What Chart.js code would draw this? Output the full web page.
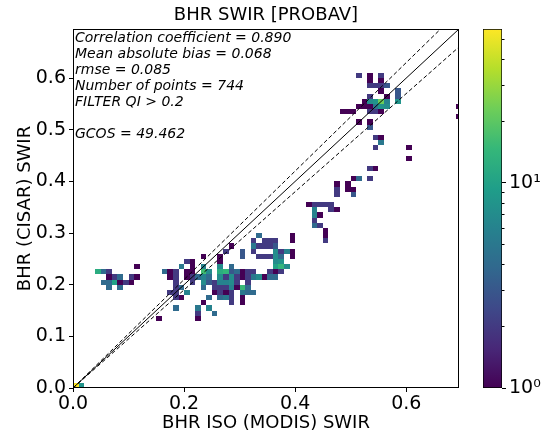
<!DOCTYPE html>
<html>
<head>
<meta charset="utf-8">
<script src="https://cdn.jsdelivr.net/npm/chart.js@4.4.1/dist/chart.umd.min.js"></script>
<style>
  html, body { margin: 0; padding: 0; background: #fff; }
  #wrap { position: relative; width: 548px; height: 436px; }
  #wrap canvas { position: absolute; left: 0; top: 0; }
</style>
</head>
<body>
<div id="wrap">
  <canvas id="hist-chart" width="548" height="436"></canvas>
  <canvas id="cbar-chart" width="548" height="436"></canvas>
</div>
<script>
// 2D histogram, bins of 0.01 (left/bottom edge values), one entry per row
const binSize = 0.01;
const rowY = [0.00, 0.13, 0.14, 0.15, 0.16, 0.17, 0.18, 0.19, 0.20, 0.21, 0.22, 0.23,
  0.24, 0.25, 0.26, 0.27, 0.28, 0.29, 0.30, 0.31, 0.32, 0.33, 0.34, 0.35, 0.37, 0.38,
  0.39, 0.40, 0.42, 0.44, 0.46, 0.47, 0.48, 0.50, 0.51, 0.52, 0.53, 0.54, 0.55, 0.56,
  0.57, 0.58, 0.59, 0.60];
const rowX = [
  [0.00, 0.01],
  [0.15, 0.22],
  [0.22, 0.25],
  [0.18, 0.22, 0.24],
  [0.23, 0.28, 0.30],
  [0.18, 0.19, 0.24, 0.26, 0.27, 0.28, 0.30],
  [0.17, 0.18, 0.20, 0.25, 0.26, 0.27, 0.28, 0.30, 0.31, 0.32],
  [0.06, 0.08, 0.18, 0.19, 0.23, 0.25, 0.26, 0.27, 0.28, 0.29, 0.30, 0.31],
  [0.05, 0.06, 0.07, 0.08, 0.09, 0.10, 0.18, 0.21, 0.23, 0.24, 0.25, 0.26, 0.27, 0.28, 0.29, 0.31],
  [0.06, 0.07, 0.08, 0.10, 0.11, 0.17, 0.18, 0.20, 0.21, 0.22, 0.23, 0.24, 0.26, 0.27, 0.28, 0.29, 0.30, 0.31, 0.32, 0.33, 0.34, 0.35, 0.36],
  [0.04, 0.05, 0.06, 0.16, 0.17, 0.18, 0.20, 0.21, 0.23, 0.24, 0.26, 0.27, 0.28, 0.29, 0.30, 0.31, 0.32, 0.35, 0.36, 0.37],
  [0.11, 0.19, 0.21, 0.23, 0.26, 0.28, 0.36, 0.37, 0.38],
  [0.20, 0.21, 0.26, 0.36, 0.37],
  [0.23, 0.26, 0.30, 0.33, 0.34, 0.35, 0.36, 0.37, 0.39],
  [0.27, 0.30, 0.32, 0.36, 0.37, 0.38, 0.39],
  [0.28, 0.32, 0.33, 0.34, 0.35, 0.36],
  [0.32, 0.34, 0.35, 0.36, 0.39, 0.45],
  [0.33, 0.39, 0.45],
  [0.45],
  [0.43, 0.44],
  [0.43],
  [0.43, 0.44],
  [0.43, 0.46, 0.47],
  [0.42, 0.43, 0.44, 0.45, 0.46],
  [0.47, 0.50],
  [0.47, 0.49, 0.50],
  [0.47, 0.49],
  [0.50, 0.51, 0.53],
  [0.53, 0.54],
  [0.60],
  [0.54, 0.60],
  [0.55],
  [0.54, 0.55],
  [0.53],
  [0.51, 0.53],
  [0.69],
  [0.48, 0.49, 0.50, 0.53, 0.54, 0.55],
  [0.51, 0.52, 0.53, 0.54, 0.55, 0.56, 0.69],
  [0.52, 0.53, 0.54, 0.55, 0.56, 0.58],
  [0.53, 0.56, 0.58],
  [0.55, 0.58],
  [0.53, 0.54, 0.55, 0.56],
  [0.53, 0.55],
  [0.51, 0.53, 0.55]
];
const rowCount = [
  [56, 8],
  [1, 1],
  [2, 4],
  [4, 5, 6],
  [1, 2, 1],
  [2, 1, 4, 4, 5, 2, 1],
  [2, 2, 6, 1, 2, 1, 2, 5, 4, 4],
  [4, 4, 2, 4, 4, 2, 2, 2, 6, 1, 15, 4],
  [4, 4, 10, 1, 2, 1, 2, 2, 7, 3, 2, 6, 6, 7, 2, 2],
  [1, 2, 4, 2, 1, 1, 2, 1, 2, 4, 6, 4, 7, 2, 7, 2, 1, 2, 5, 7, 1, 4, 4],
  [12, 4, 2, 4, 1, 2, 1, 1, 16, 7, 12, 14, 3, 4, 1, 2, 2, 2, 1, 2],
  [1, 5, 1, 6, 7, 4, 10, 14, 7],
  [2, 1, 1, 7, 8],
  [1, 1, 3, 2, 2, 2, 7, 4, 1],
  [2, 3, 2, 7, 2, 6, 1],
  [1, 5, 2, 2, 2, 3],
  [2, 2, 2, 2, 1, 2],
  [4, 1, 1],
  [1],
  [4, 2],
  [2],
  [6, 1],
  [6, 2, 1],
  [1, 2, 2, 2, 2],
  [2, 3],
  [2, 1, 1],
  [1, 1],
  [1, 4, 2],
  [2, 1],
  [1],
  [2, 1],
  [5],
  [2, 1],
  [3],
  [1, 1],
  [1],
  [1, 1, 1, 2, 2, 1],
  [1, 1, 1, 5, 8, 7, 1],
  [1, 7, 8, 22, 6, 8],
  [2, 1, 3],
  [1, 3],
  [2, 2, 2, 3],
  [1, 1],
  [2, 1, 2]
];

const countMax = 56;
const axisMax = 0.695;
const xTicks = [0, 0.2, 0.4, 0.6];
const yTicks = [0, 0.1, 0.2, 0.3, 0.4, 0.5, 0.6];
const cbarMajor = [1, 10];
const cbarMinor = [2, 3, 4, 5, 6, 7, 8, 9, 20, 30, 40, 50];
const cbarLabels = { 1: "10\u2070", 10: "10\u00b9" };

// 1:1 line and the +-5% lines
const lineEnds = [0, 0.8];
const lineRatios = [1, 1.05, 0.95];

const statLines = [
  "Correlation coefficient = 0.890",
  "Mean absolute bias = 0.068",
  "rmse = 0.085",
  "Number of points = 744",
  "FILTER QI > 0.2",
  "",
  "GCOS = 49.462",
];

const viridisStops = ["#440154", "#482878", "#3e4989", "#31688e", "#26828e",
  "#1f9e89", "#35b779", "#6ece58", "#b5de2b", "#fde725"];

function hexRgb(h) {
  return [1, 3, 5].map((i) => parseInt(h.substr(i, 2), 16));
}

function viridis(t) {
  t = Math.min(1, Math.max(0, t)) * (viridisStops.length - 1);
  const k = Math.min(Math.floor(t), viridisStops.length - 2);
  const f = t - k;
  const a = hexRgb(viridisStops[k]);
  const b = hexRgb(viridisStops[k + 1]);
  const c = a.map((v, i) => Math.round(v + (b[i] - v) * f));
  return `rgb(${c[0]},${c[1]},${c[2]})`;
}

Chart.defaults.font.family = "DejaVu Sans";
Chart.defaults.color = "#000";

const tickFont = { family: "DejaVu Sans", size: 19 };
const titleFont = { family: "DejaVu Sans", size: 18, weight: "normal" };

const cellPlugin = {
  id: "cells",
  beforeDatasetsDraw(chart) {
    const { ctx, chartArea: a, scales: { x, y } } = chart;
    ctx.save();
    ctx.beginPath();
    ctx.rect(a.left, a.top, a.right - a.left, a.bottom - a.top);
    ctx.clip();
    rowY.forEach((cy, r) => {
      rowX[r].forEach((cx, k) => {
        const x0 = Math.round(x.getPixelForValue(cx));
        const x1 = Math.round(x.getPixelForValue(cx + binSize));
        const y0 = Math.round(y.getPixelForValue(cy));
        const y1 = Math.round(y.getPixelForValue(cy + binSize));
        ctx.fillStyle = viridis(Math.log(rowCount[r][k]) / Math.log(countMax));
        ctx.fillRect(x0, y1, x1 - x0, y0 - y1);
      });
    });
    ctx.restore();
  },
};

const framePlugin = {
  id: "frame",
  afterDraw(chart) {
    const { ctx, chartArea: a } = chart;
    ctx.save();
    ctx.strokeStyle = "#000";
    ctx.lineWidth = 1;
    ctx.strokeRect(a.left + 0.5, a.top + 0.5, a.right - a.left - 1, a.bottom - a.top - 1);
    ctx.restore();
  },
};

const statsPlugin = {
  id: "stats",
  afterDraw(chart) {
    const { ctx, chartArea: a } = chart;
    ctx.save();
    ctx.fillStyle = "#000";
    ctx.font = "italic 14px 'DejaVu Sans'";
    ctx.textBaseline = "alphabetic";
    statLines.forEach((line, i) => {
      ctx.fillText(line, a.left + 2, a.top + 13 + i * 16);
    });
    ctx.restore();
  },
};

// shorter minor ticks on the colour bar, placed by the log scale
const minorTickPlugin = {
  id: "minorTicks",
  afterDraw(chart) {
    const { ctx } = chart;
    const s = chart.scales.y;
    ctx.save();
    ctx.strokeStyle = "#000";
    ctx.lineWidth = 1;
    ctx.beginPath();
    cbarMinor.forEach((v) => {
      const py = Math.round(s.getPixelForValue(v)) + 0.5;
      ctx.moveTo(s.left, py);
      ctx.lineTo(s.left + 2.5, py);
    });
    ctx.stroke();
    ctx.restore();
  },
};

const histChart = new Chart(document.getElementById("hist-chart"), {
  type: "scatter",
  data: {
    datasets: lineRatios.map((r, k) => ({
      data: lineEnds.map((x) => ({ x: x, y: x * r })),
      showLine: true,
      borderColor: "#000",
      borderWidth: 1,
      borderDash: k ? [4, 2.5] : [],
      pointRadius: 0,
      fill: false,
    })),
  },
  options: {
    responsive: false,
    animation: false,
    layout: { padding: { left: 0, right: 89, top: 0, bottom: 0 } },
    plugins: {
      legend: { display: false },
      tooltip: { enabled: false },
      title: {
        display: true,
        text: "BHR SWIR [PROBAV]",
        fullSize: false,
        color: "#000",
        font: titleFont,
        padding: { top: 5, bottom: 2.4 },
      },
    },
    scales: {
      x: {
        type: "linear",
        min: 0,
        max: axisMax,
        afterBuildTicks: (s) => {
          s.ticks = xTicks.map((v) => ({ value: v }));
        },
        afterFit: (s) => {
          s.height = 48;
        },
        grid: { drawOnChartArea: false, drawTicks: true, tickLength: 4, color: "#000" },
        border: { display: false },
        ticks: {
          font: tickFont,
          color: "#000",
          padding: 1,
          maxRotation: 0,
          callback: (v) => v.toFixed(1),
        },
        title: {
          display: true,
          text: "BHR ISO (MODIS) SWIR",
          font: titleFont,
          color: "#000",
          padding: { top: 0, bottom: 2 },
        },
      },
      y: {
        type: "linear",
        min: 0,
        max: axisMax,
        afterBuildTicks: (s) => {
          s.ticks = yTicks.map((v) => ({ value: v }));
        },
        afterFit: (s) => {
          s.width = 73;
        },
        grid: { drawOnChartArea: false, drawTicks: true, tickLength: 4, color: "#000" },
        border: { display: false },
        ticks: {
          font: tickFont,
          color: "#000",
          padding: 3,
          callback: (v) => v.toFixed(1),
        },
        title: {
          display: true,
          text: "BHR (CISAR) SWIR",
          font: titleFont,
          color: "#000",
          padding: { top: 15, bottom: 0 },
        },
      },
    },
  },
  plugins: [cellPlugin, framePlugin, statsPlugin],
});

const cbarChart = new Chart(document.getElementById("cbar-chart"), {
  type: "bar",
  data: {
    labels: [""],
    datasets: [
      {
        data: [[1, countMax]],
        backgroundColor: (c) => {
          const area = c.chart.chartArea;
          if (!area) return viridisStops[0];
          const g = c.chart.ctx.createLinearGradient(0, area.bottom, 0, area.top);
          viridisStops.forEach((col, i) => g.addColorStop(i / (viridisStops.length - 1), col));
          return g;
        },
        borderColor: "#000",
        borderWidth: 1,
        borderSkipped: false,
        barPercentage: 1,
        categoryPercentage: 1,
      },
    ],
  },
  options: {
    responsive: false,
    animation: false,
    layout: { padding: { left: 483, right: 0, top: 29, bottom: 48 } },
    plugins: { legend: { display: false }, tooltip: { enabled: false } },
    scales: {
      x: { display: false },
      y: {
        type: "logarithmic",
        position: "right",
        min: 1,
        max: countMax,
        afterBuildTicks: (s) => {
          s.ticks = cbarMajor.map((v) => ({ value: v }));
        },
        afterFit: (s) => {
          s.width = 46;
        },
        grid: { drawOnChartArea: false, drawTicks: true, tickLength: 4, color: "#000" },
        border: { display: false },
        ticks: {
          font: tickFont,
          color: "#000",
          padding: 3,
          autoSkip: false,
          callback: (v) => cbarLabels[v] || "",
        },
      },
    },
  },
  plugins: [minorTickPlugin],
});
</script>
</body>
</html>
